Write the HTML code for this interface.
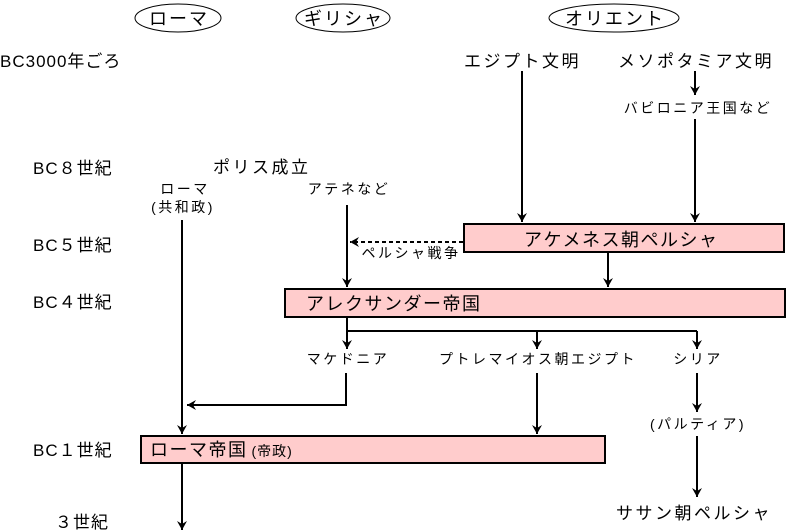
<!DOCTYPE html>
<html><head><meta charset="utf-8"><style>
html,body{margin:0;padding:0;background:#fff;}
svg{display:block;}
text{font-family:"Liberation Sans","Noto Sans CJK JP",sans-serif;fill:#000;}
</style></head><body>
<svg width="786" height="531" viewBox="0 0 786 531" xmlns="http://www.w3.org/2000/svg">
<defs>
<marker id="a" markerWidth="10" markerHeight="10" refX="9" refY="5" orient="auto" markerUnits="userSpaceOnUse">
<path d="M0,0 L9,5 L0,10 L3,5 Z" fill="#000"/>
</marker>
</defs>
<g fill="none" stroke="#000" stroke-width="1">
<ellipse cx="178" cy="18" rx="43" ry="14"/>
<ellipse cx="343" cy="18" rx="47" ry="14"/>
<ellipse cx="614" cy="18" rx="65" ry="14"/>
</g>
<g font-size="18" text-anchor="middle" letter-spacing="2">
<text x="179" y="25">ローマ</text>
<text x="344" y="25">ギリシャ</text>
<text x="615" y="25">オリエント</text>
</g>
<g font-size="17" letter-spacing="1">
<text x="0" y="67">BC3000年ごろ</text>
<text x="33" y="174">BC８世紀</text>
<text x="33" y="251">BC５世紀</text>
<text x="33" y="308">BC４世紀</text>
<text x="33" y="456">BC１世紀</text>
<text x="55" y="528">３世紀</text>
</g>
<g font-size="17" letter-spacing="2.5">
<text x="213" y="173">ポリス成立</text>
<text x="464" y="67">エジプト文明</text>
<text x="618" y="67">メソポタミア文明</text>
<text x="616" y="519">ササン朝ペルシャ</text>
</g>
<g font-size="14" text-anchor="middle" letter-spacing="2.5">
<text x="185" y="194">ローマ</text>
<text x="183" y="212">(共和政)</text>
<text x="349" y="194">アテネなど</text>
<text x="698" y="113">バビロニア王国など</text>
<text x="411" y="258">ペルシャ戦争</text>
<text x="348" y="364">マケドニア</text>
<text x="538" y="364">プトレマイオス朝エジプト</text>
<text x="698" y="364">シリア</text>
<text x="698" y="429">(パルティア)</text>
</g>
<g stroke="#000" stroke-width="2" fill="#ffcccc">
<rect x="464" y="224" width="320" height="28"/>
<rect x="285" y="289" width="500" height="28"/>
<rect x="141" y="436" width="464" height="27"/>
</g>
<g font-size="18" letter-spacing="1.5">
<text x="524" y="246">アケメネス朝ペルシャ</text>
<text x="306" y="310">アレクサンダー帝国</text>
<text x="150" y="456">ローマ帝国<tspan font-size="14" letter-spacing="1" dx="4">(帝政)</tspan></text>
</g>
<g stroke="#000" stroke-width="2" fill="none">
<line x1="182" y1="220" x2="182" y2="434" marker-end="url(#a)"/>
<line x1="182" y1="464" x2="182" y2="530" marker-end="url(#a)"/>
<line x1="347" y1="205" x2="347" y2="287" marker-end="url(#a)"/>
<line x1="522" y1="71" x2="522" y2="222" marker-end="url(#a)"/>
<line x1="695" y1="71" x2="695" y2="95" marker-end="url(#a)"/>
<line x1="695" y1="119" x2="695" y2="222" marker-end="url(#a)"/>
<line x1="608" y1="253" x2="608" y2="287" marker-end="url(#a)"/>
<line x1="347" y1="318" x2="347" y2="349" marker-end="url(#a)"/>
<polyline points="347,331 697,331"/>
<line x1="537" y1="331" x2="537" y2="349" marker-end="url(#a)"/>
<line x1="697" y1="331" x2="697" y2="349" marker-end="url(#a)"/>
<polyline points="346,373 346,405 187,405" marker-end="url(#a)"/>
<line x1="537" y1="373" x2="537" y2="434" marker-end="url(#a)"/>
<line x1="697" y1="373" x2="697" y2="412" marker-end="url(#a)"/>
<line x1="697" y1="436" x2="697" y2="497" marker-end="url(#a)"/>
<line x1="463" y1="242" x2="350" y2="242" stroke-dasharray="4,3" marker-end="url(#a)"/>
</g>
</svg>
</body></html>
